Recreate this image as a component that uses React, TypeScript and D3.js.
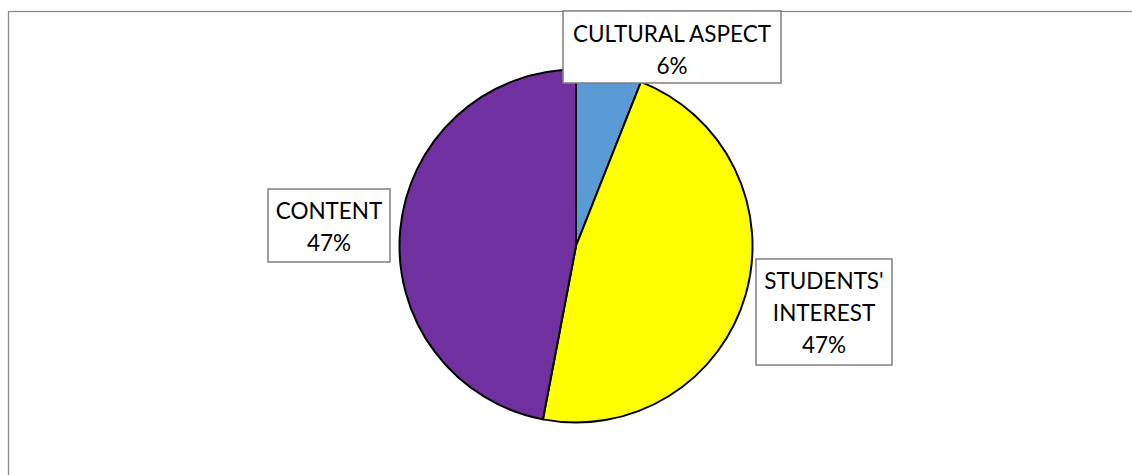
import React from "react";
import * as d3 from "d3";

const categories = ["CULTURAL ASPECT", "STUDENTS' INTEREST", "CONTENT"];
const values = [6, 47, 47];
const labelLines = [["CULTURAL ASPECT", "6%"], ["STUDENTS'", "INTEREST", "47%"], ["CONTENT", "47%"]];
const colors = ["#5b9bd5", "#ffff00", "#7030a0"];

// label box layout (page coords)
const boxes = [
  { x: 563, y: 11, w: 218, h: 72, first: 41.5 },
  { x: 756, y: 259, w: 136, h: 106, first: 288.5 },
  { x: 268, y: 189, w: 122, h: 73, first: 218.5 },
];

export default function App() {
  const W = 1132, H = 475;
  const cx = 576, cy = 246, r = 176.5;
  const pie = d3.pie<number>().sort(null).value((d) => d);
  const arcs = pie(values);
  const arc = d3.arc<d3.PieArcDatum<number>>().innerRadius(0).outerRadius(r);
  const font = "Lato, 'Open Sans', sans-serif";
  return (
    <svg width={W} height={H} style={{ position: "absolute", left: 0, top: 0 }} fontFamily={font}>
      <rect x={0} y={0} width={W} height={H} fill="#fff" />
      <rect x={8.5} y={11.5} width={W + 10} height={H + 10} fill="none" stroke="#8c8c8c" strokeWidth={1.3} />
      <g transform={`translate(${cx},${cy})`}>
        {arcs.map((a, i) => (
          <path key={categories[i]} d={arc(a) || ""} fill={colors[i]} stroke="#000" strokeWidth={2} strokeLinejoin="round" />
        ))}
      </g>
      {boxes.map((b, i) => (
        <g key={i}>
          <rect x={b.x} y={b.y} width={b.w} height={b.h} fill="#fff" stroke="#7f7f7f" strokeWidth={1.5} />
          {labelLines[i].map((t, j) => (
            <text key={j} x={b.x + b.w / 2} y={b.first + j * 32.3} textAnchor="middle" fontSize={22.5} fill="#000">
              {t}
            </text>
          ))}
        </g>
      ))}
    </svg>
  );
}
